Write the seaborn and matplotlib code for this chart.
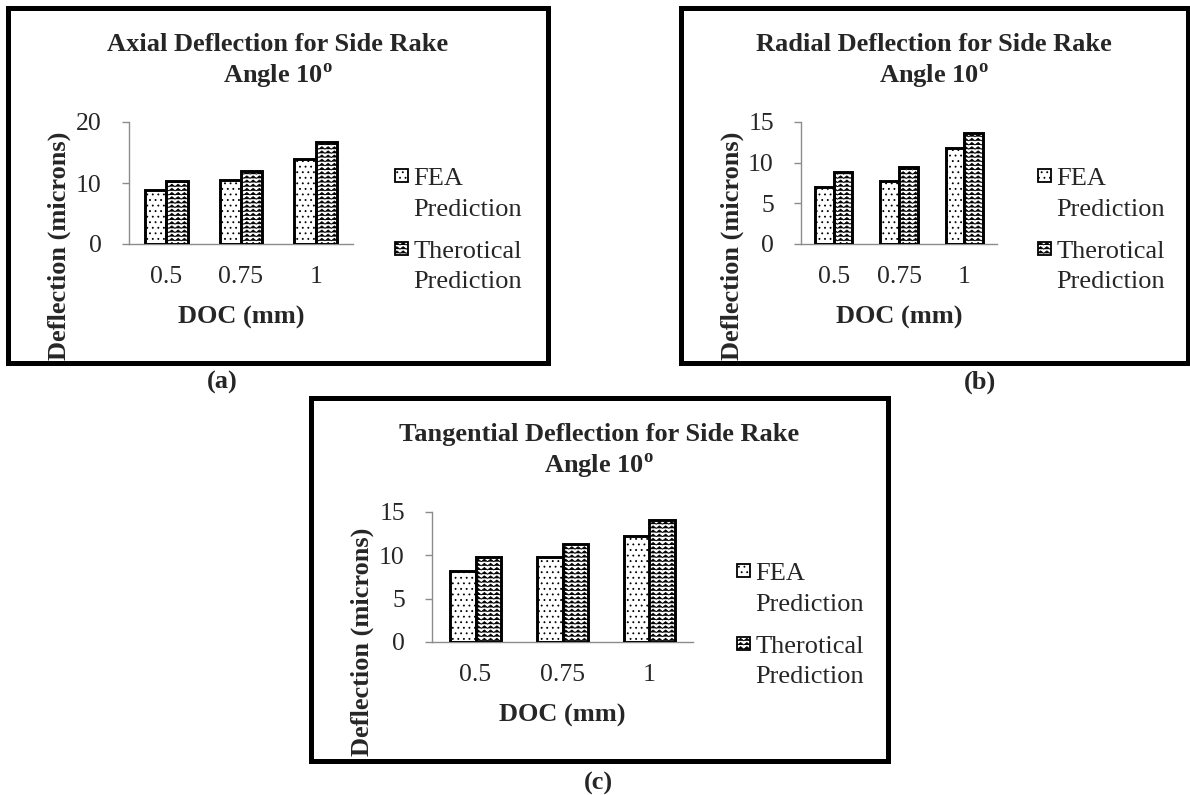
import warnings

import numpy as np
import pandas as pd
import matplotlib
matplotlib.use("Agg")
import matplotlib.pyplot as plt
import matplotlib.hatch as mhatch
from matplotlib.path import Path
from matplotlib.patches import Patch, Rectangle
from matplotlib.legend_handler import HandlerBase
import seaborn as sns

warnings.filterwarnings("ignore")

# ---------------------------------------------------------------- data
doc_mm = ["0.5", "0.75", "1"]
series = ["FEA Prediction", "Therotical Prediction"]

axial_fea = [8.8, 10.5, 14.0]
axial_theory = [10.4, 12.0, 16.8]
radial_fea = [7.05, 7.75, 11.8]
radial_theory = [8.85, 9.45, 13.6]
tangential_fea = [8.15, 9.8, 12.2]
tangential_theory = [9.8, 11.3, 14.05]

titles = ["Axial Deflection for Side Rake",
          "Radial Deflection for Side Rake",
          "Tangential Deflection for Side Rake"]
subtitle = r"Angle 10$^{\mathbf{o}}$"
tags = ["(a)", "(b)", "(c)"]
y_ticks = [[0, 10, 20], [0, 5, 10, 15], [0, 5, 10, 15]]


# ------------------------------------------------- zigzag hatch pattern
class ZigZagHatch(mhatch.HatchPatternBase):
    """Horizontal zigzag lines, selected with the 'z' hatch character."""

    def __init__(self, hatch, density):
        self.num_lines = int(hatch.count("z") * density)
        self.num_peaks = int(round(self.num_lines * 2 / 3))
        self.num_vertices = self.num_lines * (2 * self.num_peaks + 1)

    def set_vertices_and_codes(self, vertices, codes):
        n = 2 * self.num_peaks + 1
        xs = np.linspace(0.0, 1.0, n)
        steps, step = np.linspace(0.0, 1.0, self.num_lines, False, retstep=True)
        steps += step / 2
        half_amp = 0.3 * step
        offs = np.where(np.arange(n) % 2 == 0, -half_amp, half_amp)
        for i, y in enumerate(steps):
            sl = slice(i * n, (i + 1) * n)
            vertices[sl, 0] = xs
            vertices[sl, 1] = y + offs
            codes[sl] = Path.LINETO
            codes[i * n] = Path.MOVETO


mhatch._hatch_types.append(ZigZagHatch)
hatches = ["...", "zzzz"]


class CornerSquareHandler(HandlerBase):
    """Small square legend key level with the first line of a wrapped label."""

    def __init__(self, size, lift):
        super().__init__()
        self.size = size
        self.lift = lift

    def create_artists(self, legend, orig_handle, xdescent, ydescent,
                       width, height, fontsize, trans):
        s = self.size * fontsize
        y0 = self.lift * fontsize - s / 2
        sq = Rectangle((-xdescent, y0), s, s,
                       facecolor=orig_handle.get_facecolor(),
                       edgecolor=orig_handle.get_edgecolor(),
                       hatch=orig_handle.get_hatch(),
                       linewidth=1.3, transform=trans)
        return [sq]


# ---------------------------------------------------------------- style
sns.set_theme(style="white")
plt.rcParams["font.family"] = ["Liberation Serif", "DejaVu Serif"]
plt.rcParams["mathtext.fontset"] = "custom"
plt.rcParams["mathtext.rm"] = "Liberation Serif"
plt.rcParams["mathtext.bf"] = "Liberation Serif:bold"
plt.rcParams["hatch.linewidth"] = 0.6

FS = 19          # titles, axis labels, legend, tags
TICK_FS = 18.5   # tick labels
AXIS_GRAY = "#8c8c8c"
W, H = 1190, 795
fig = plt.figure(figsize=(W / 100, H / 100), dpi=100)


def fx(x):
    return x / W


def fy(y):
    return 1 - y / H


# panel frames (pixels): outer box, plot area, legend anchor, tag position
layout = [
    dict(box=(5, 5, 550, 365), plot=(129, 122, 353, 244),
         legend=(395, 168), tag=(222, 382), ylab_bottom=360),
    dict(box=(678, 5, 1190, 365), plot=(801, 122, 997, 244),
         legend=(1038, 168), tag=(980, 382), ylab_bottom=360),
    dict(box=(308, 395, 890, 763), plot=(432, 512, 693, 642),
         legend=(737, 563), tag=(598, 783), ylab_bottom=756),
]
values = [(axial_fea, axial_theory),
          (radial_fea, radial_theory),
          (tangential_fea, tangential_theory)]

for k, (lay, (fea, theory)) in enumerate(zip(layout, values)):
    bx0, by0, bx1, by1 = lay["box"]
    px0, py0, px1, py1 = lay["plot"]
    pw, ph = px1 - px0, py1 - py0

    ax = fig.add_axes([fx(px0), fy(py1), pw / W, ph / H])

    df = pd.DataFrame({
        "DOC (mm)": doc_mm * 2,
        "Deflection (microns)": list(fea) + list(theory),
        "Series": [series[0]] * 3 + [series[1]] * 3,
    })
    sns.barplot(data=df, x="DOC (mm)", y="Deflection (microns)", hue="Series",
                order=doc_mm, hue_order=series, palette=["white", "white"],
                saturation=1, width=0.575, gap=0, edgecolor="black",
                linewidth=2.1, errorbar=None, legend=False, ax=ax)
    for container, hatch in zip(ax.containers, hatches):
        for bar in container:
            bar.set_hatch(hatch)

    ax.set_xlim(-0.5, 2.5)
    ax.set_ylim(0, y_ticks[k][-1])
    ax.set_yticks(y_ticks[k])
    ax.set_facecolor("none")
    for side in ("top", "right"):
        ax.spines[side].set_visible(False)
    for side in ("left", "bottom"):
        ax.spines[side].set_color(AXIS_GRAY)
        ax.spines[side].set_linewidth(1.0)
        ax.spines[side].set_zorder(0.5)
    ax.tick_params(axis="y", length=5, width=1, color=AXIS_GRAY,
                   labelsize=TICK_FS, pad=14.5, left=True, direction="out")
    ax.tick_params(axis="x", length=0, labelsize=TICK_FS, pad=16)

    ax.set_xlabel("DOC (mm)", fontsize=FS, fontweight="bold")
    ax.xaxis.label.set_va("baseline")
    ax.xaxis.set_label_coords(0.5, -80 / ph)

    ax.set_ylabel("Deflection (microns)", fontsize=FS, fontweight="bold")
    ax.yaxis.label.set_ha("left")
    ax.yaxis.label.set_va("center")
    ax.yaxis.set_label_coords((bx0 + 54 - px0) / pw,
                              (py1 - lay["ylab_bottom"]) / ph)

    # legend
    handles = [Patch(facecolor="white", edgecolor="black", hatch=h)
               for h in hatches]
    labels = [s.replace(" ", "\n") for s in series]
    lx, ly = lay["legend"]
    leg = ax.legend(handles, labels, loc="upper left",
                    bbox_to_anchor=(fx(lx), fy(ly)),
                    bbox_transform=fig.transFigure, frameon=False,
                    borderpad=0, borderaxespad=0, fontsize=FS,
                    handlelength=0.5, handleheight=0.7, handletextpad=0.2,
                    labelspacing=0.75,
                    handler_map={Patch: CornerSquareHandler(0.5, 1.03)})
    for t in leg.get_texts():
        t.set_linespacing(1.52)

    # chart title, two lines, centred in the frame
    cx = (bx0 + bx1) / 2
    fig.text(fx(cx), fy(by0 + 46), titles[k], ha="center", va="baseline",
             fontsize=FS, fontweight="bold")
    fig.text(fx(cx), fy(by0 + 78), subtitle, ha="center", va="baseline",
             fontsize=FS, fontweight="bold")

    # thick frame around the chart
    lw_px = 5
    frame = Rectangle((fx(bx0 + lw_px / 2), fy(by1 - lw_px / 2)),
                      (bx1 - bx0 - lw_px) / W, (by1 - by0 - lw_px) / H,
                      transform=fig.transFigure, fill=False,
                      edgecolor="black", linewidth=lw_px * 0.72, zorder=10)
    fig.add_artist(frame)

    tx, ty = lay["tag"]
    fig.text(fx(tx), fy(ty), tags[k], ha="center", va="center",
             fontsize=FS, fontweight="bold")

fig.savefig("out.png", dpi=100)
